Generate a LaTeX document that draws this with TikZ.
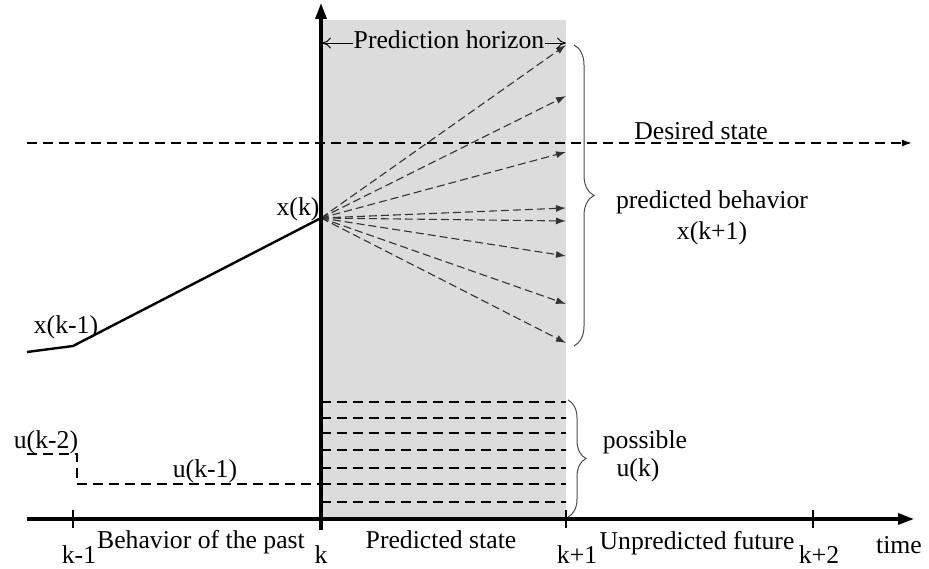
\documentclass[tikz,border=0pt]{standalone}
\usepackage{fontspec}
\setmainfont{Liberation Serif}
\usetikzlibrary{arrows.meta,decorations.pathreplacing}
\definecolor{regiongray}{HTML}{DCDCDC}
\begin{document}
\begin{tikzpicture}[x=1pt,y=-1pt,
  lbl/.style={font=\fontsize{25.7}{30}\selectfont, inner sep=0pt, anchor=base},
  axisline/.style={line width=3.2pt, -{Triangle[length=16pt,width=11pt]}},
  tick/.style={line width=1.8pt},
  fan/.style={line width=1.1pt, draw=black!80, dash pattern=on 8pt off 4pt, -{Latex[length=10pt,width=7pt]}},
  ctrl/.style={line width=1.8pt, dash pattern=on 10pt off 6pt},
  desired/.style={line width=1.6pt, dash pattern=on 10pt off 6pt, -{Latex[length=10pt,width=7pt]}},
  bracey/.style={draw=black!70, line width=1pt, decoration={brace, amplitude=#1}, decorate},
  horizon/.style={line width=0.9pt, {To[length=9pt,width=11pt]}-{To[length=9pt,width=11pt]}}
]
\useasboundingbox (0,0) rectangle (929,569);

% shaded prediction region
\fill[regiongray] (321,20) rectangle (566,519);

% coordinates
\coordinate (hs) at (27,519);
\coordinate (he) at (914,519);
\coordinate (vs) at (321,530);
\coordinate (ve) at (321,3);
\coordinate (dstart) at (27,143);
\coordinate (dend) at (912,143);

% desired state line
\draw[desired] (dstart) -- (dend);
\node[lbl] (desired) at (701,140) {Desired state};

% past state trajectory
\coordinate (p0) at (27,352);
\coordinate (p1) at (73,346);
\coordinate (xk) at (321,218);
\draw[line width=2.4pt] (p0) -- (p1) -- (xk);

% fan of predicted trajectories
\foreach \i/\y in {1/45,2/96,3/152,4/208,5/221,6/256,7/304,8/343}{
  \coordinate (e\i) at (566,\y);
  \draw[fan] (xk) -- (e\i);
}
\fill (xk) circle (2.2pt);

% possible inputs
\foreach \i/\y in {1/402,2/418,3/433,4/450,5/468,6/484,7/502}{
  \coordinate (ua\i) at (321,\y);
  \coordinate (ub\i) at (566,\y);
  \draw[ctrl] (ua\i) -- (ub\i);
}

% past inputs
\coordinate (u0) at (27,454);
\coordinate (u1) at (77,454);
\coordinate (u2) at (77,484);
\coordinate (u3) at (321,484);
\draw[ctrl] (u0) -- (u1) -- (u2) -- (u3);

% axes
\draw[axisline] (hs) -- (he);
\draw[axisline] (vs) -- (ve);

% ticks
\foreach \n/\x in {t1/73,t3/566,t4/813}{
  \coordinate (\n a) at (\x,510);
  \coordinate (\n b) at (\x,528);
  \draw[tick] (\n a) -- (\n b);
}

% prediction horizon
\coordinate (ph1) at (322,43);
\coordinate (ph2) at (566,43);
\draw[horizon] (ph1) -- (ph2);
\node[lbl, fill=regiongray, inner xsep=1pt, inner ysep=0pt] (horiz) at (449,49) {Prediction horizon};

% braces
\coordinate (b1t) at (574,45);
\coordinate (b1b) at (574,346);
\draw[bracey=20pt] (b1t) -- (b1b);
\coordinate (b2t) at (568,400);
\coordinate (b2b) at (568,517);
\draw[bracey=18pt] (b2t) -- (b2b);

% labels
\node[lbl] (pb) at (712,209) {predicted behavior};
\node[lbl] (xk1) at (712,240) {x(k+1)};
\node[lbl] (poss) at (645,448) {possible};
\node[lbl] (uk) at (638,476) {u(k)};
\node[lbl] (xklbl) at (298,216) {x(k)};
\node[lbl] (xkm1) at (66,334) {x(k-1)};
\node[lbl] (ukm2) at (46,448) {u(k-2)};
\node[lbl] (ukm1) at (205,477) {u(k-1)};

\node[lbl] (lk1) at (79,563) {k-1};
\node[lbl] (past) at (201,548) {Behavior of the past};
\node[lbl] (lk) at (321,563) {k};
\node[lbl] (pred) at (441,548) {Predicted state};
\node[lbl] (lk2) at (577,563) {k+1};
\node[lbl] (fut) at (697,549) {Unpredicted future};
\node[lbl] (lk3) at (819,563) {k+2};
\node[lbl] (time) at (899,553) {time};
\end{tikzpicture}
\end{document}
